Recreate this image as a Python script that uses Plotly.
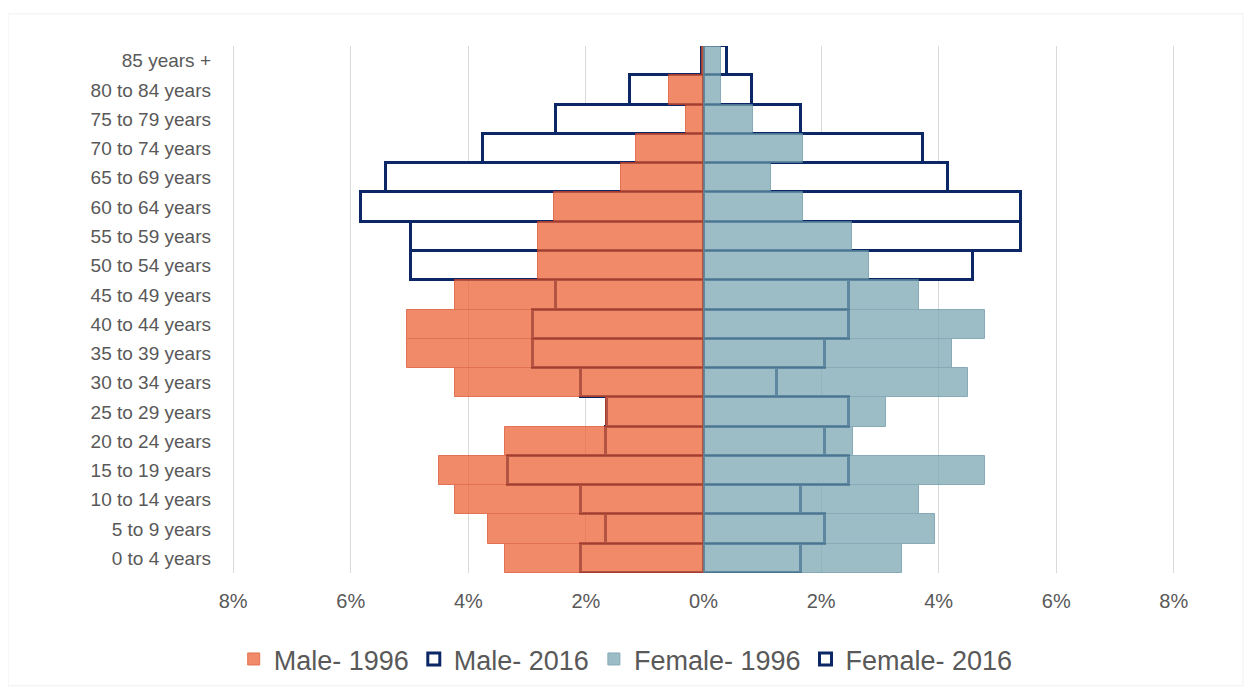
import plotly.graph_objects as go

# Age groups, bottom to top
age_groups = ["0 to 4 years", "5 to 9 years", "10 to 14 years", "15 to 19 years",
              "20 to 24 years", "25 to 29 years", "30 to 34 years", "35 to 39 years",
              "40 to 44 years", "45 to 49 years", "50 to 54 years", "55 to 59 years",
              "60 to 64 years", "65 to 69 years", "70 to 74 years", "75 to 79 years",
              "80 to 84 years", "85 years +"]

# Share of population (%)
male_1996 = [3.37, 3.67, 4.22, 4.50, 3.37, 1.66, 4.22, 5.05, 5.05, 4.22,
             2.82, 2.82, 2.54, 1.41, 1.14, 0.29, 0.58, 0.03]
male_2016 = [2.08, 1.66, 2.08, 3.33, 1.66, 1.64, 2.08, 2.90, 2.90, 2.51,
             4.98, 4.98, 5.82, 5.40, 3.75, 2.51, 1.25, 0.03]
female_1996 = [3.38, 3.94, 3.66, 4.78, 2.54, 3.10, 4.50, 4.23, 4.78, 3.66,
               2.81, 2.53, 1.70, 1.14, 1.70, 0.85, 0.30, 0.30]
female_2016 = [1.66, 2.07, 1.66, 2.48, 2.07, 2.48, 1.25, 2.07, 2.48, 2.48,
               4.58, 5.40, 5.40, 4.16, 3.73, 1.66, 0.83, 0.40]

tick_vals = [-8, -6, -4, -2, 0, 2, 4, 6, 8]
tick_text = ["8%", "6%", "4%", "2%", "0%", "2%", "4%", "6%", "8%"]

NAVY = "#0B2766"
ORANGE = "#EB6336"
ORANGE_EDGE = "#D9431A"
TEAL = "#7BA8B3"
TEAL_EDGE = "#5E8FA0"
TEXT = "#595959"
FONT = "Liberation Sans, Arial, sans-serif"

fig = go.Figure()

# 2016 outlined bars (drawn beneath)
fig.add_trace(go.Bar(
    y=age_groups, x=[-v for v in male_2016], orientation="h", name="Male- 2016",
    marker=dict(color="white", line=dict(color=NAVY, width=3)), legendrank=2,
))
fig.add_trace(go.Bar(
    y=age_groups, x=female_2016, orientation="h", name="Female- 2016",
    marker=dict(color="white", line=dict(color=NAVY, width=3)), legendrank=4,
))
# 1996 filled bars (semi-transparent, on top)
fig.add_trace(go.Bar(
    y=age_groups, x=[-v for v in male_1996], orientation="h", name="Male- 1996",
    marker=dict(color=ORANGE, line=dict(color=ORANGE_EDGE, width=1)), opacity=0.75,
    legendrank=1,
))
fig.add_trace(go.Bar(
    y=age_groups, x=female_1996, orientation="h", name="Female- 1996",
    marker=dict(color=TEAL, line=dict(color=TEAL_EDGE, width=1)), opacity=0.75,
    legendrank=3,
))

fig.update_layout(
    width=1252, height=690,
    barmode="overlay", bargap=0,
    paper_bgcolor="white", plot_bgcolor="white",
    margin=dict(l=224, r=85, t=38, b=125),
    font=dict(family=FONT, color=TEXT, size=19),
    legend=dict(
        orientation="h", xref="paper", yref="paper",
        x=0.4175, xanchor="center", y=-0.164, yanchor="middle",
        font=dict(size=27, color=TEXT), traceorder="normal",
        itemwidth=30, tracegroupgap=0,
    ),
    xaxis=dict(
        range=[-8.02, 8.02], tickvals=tick_vals, ticktext=tick_text,
        showgrid=True, gridcolor="#D9D9D9", gridwidth=1.3,
        zeroline=True, zerolinecolor="#D9D9D9", zerolinewidth=1,
        tickfont=dict(size=20, color=TEXT), ticks="", ticklabelstandoff=14,
        fixedrange=True,
    ),
    yaxis=dict(
        type="category", categoryorder="array", categoryarray=age_groups,
        showgrid=False, zeroline=False, ticks="",
        tickfont=dict(size=19, color=TEXT), ticklabelstandoff=20,
        fixedrange=True,
    ),
    shapes=[dict(type="rect", xref="paper", yref="paper", x0=-0.2375, x1=1.072,
                 y0=-0.214, y1=1.061, line=dict(color="#F0F0F0", width=1),
                 fillcolor="rgba(0,0,0,0)", layer="below")],
)

fig.write_html("out.html")
